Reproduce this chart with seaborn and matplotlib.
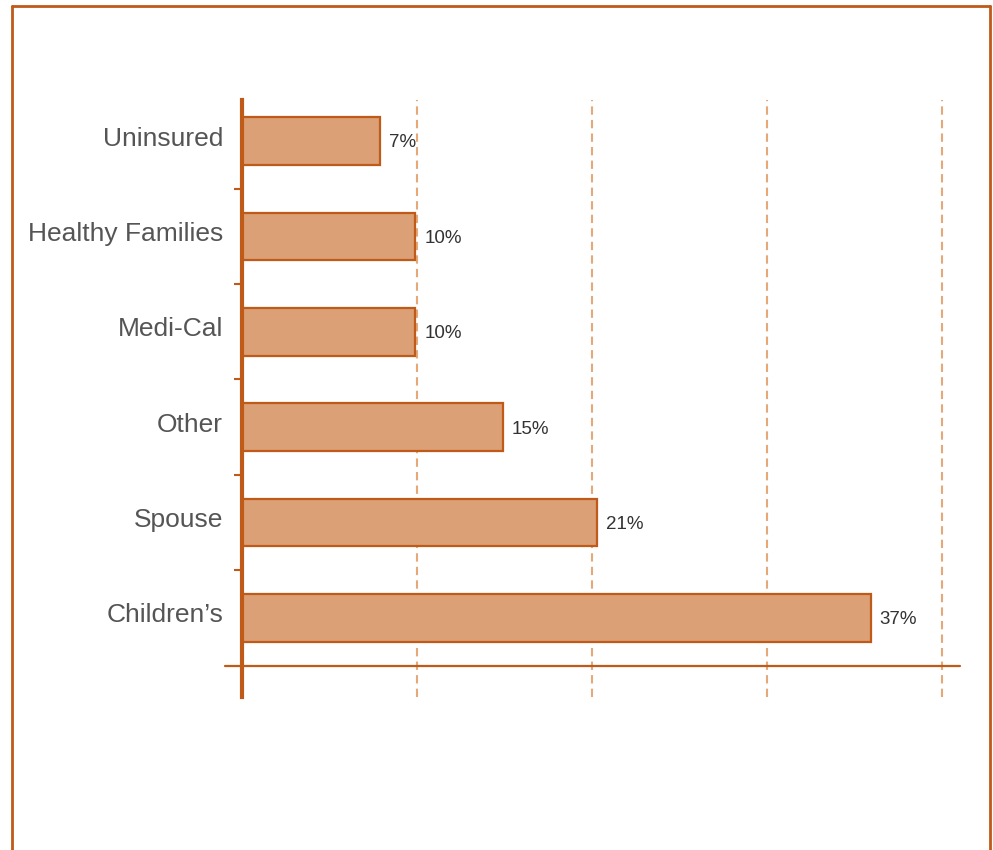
import matplotlib
matplotlib.use("Agg")
import matplotlib.pyplot as plt
import matplotlib.transforms as mtransforms
import seaborn as sns
import pandas as pd
from matplotlib.lines import Line2D

categories = ["Uninsured", "Healthy Families", "Medi-Cal", "Other", "Spouse", "Children\u2019s"]
values = [7.9, 9.9, 9.9, 14.9, 20.3, 35.9]
value_labels = ["7%", "10%", "10%", "15%", "21%", "37%"]
grid_ticks = [10, 20, 30, 40]

df = pd.DataFrame({"category": categories, "value": values})

sns.set_theme(style="white")
plt.rcParams["font.family"] = ["Liberation Sans", "DejaVu Sans"]

BAR_FILL = "#DCA076"
EDGE = "#BF5A18"
GRID = "#E5A878"

fig = plt.figure(figsize=(9.93, 8.5), dpi=100)
ax = fig.add_axes([242 / 993, 1 - 697 / 850, (960 - 242) / 993, (697 - 100) / 850])

sns.barplot(data=df, x="value", y="category", orient="h", ax=ax, width=0.5,
            color=BAR_FILL, edgecolor=EDGE, linewidth=1.6, saturation=1)

ax.set_xlim(0, 41)
ax.set_ylim(5.83, -0.43)
ax.set_xlabel("")
ax.set_ylabel("")

ax.set_xticks(grid_ticks)
ax.set_xticklabels([])
ax.tick_params(axis="x", length=0)
ax.xaxis.grid(True, linestyle=(0, (4, 2.5)), color=GRID, linewidth=1.5)
ax.yaxis.grid(False)
ax.set_axisbelow(True)

ax.set_yticks(range(len(categories)), minor=False)
ax.set_yticklabels(categories)
ax.tick_params(axis="y", which="major", length=0, pad=13.5, labelsize=19, labelcolor="#555555")
ax.set_yticks([i + 0.5 for i in range(len(categories) - 1)], minor=True)
ax.tick_params(axis="y", which="minor", length=6, width=1.5, color=EDGE, left=True)

# nudge category labels slightly upward as in the reference
offset = mtransforms.ScaledTranslation(0, 3.5 / 72, fig.dpi_scale_trans)
for lbl in ax.get_yticklabels():
    lbl.set_transform(lbl.get_transform() + offset)

for s in ["top", "right", "bottom"]:
    ax.spines[s].set_visible(False)
ax.spines["left"].set_color(EDGE)
ax.spines["left"].set_linewidth(3)
ax.spines["left"].set_zorder(5)

ax.axhline(len(categories) - 0.5, xmin=-0.024, xmax=1, color=EDGE, linewidth=1.6, clip_on=False, zorder=4)

for i, (v, lab) in enumerate(zip(values, value_labels)):
    ax.text(v + 0.5, i + 0.02, lab, va="center", ha="left", fontsize=13.5, color="#333333",
            family=["Liberation Sans Narrow", "Liberation Sans", "DejaVu Sans"])

# decorative frame
for (x0, y0, x1, y1) in [(12, 6, 12, 850), (12, 6, 990, 6), (990, 6, 990, 850)]:
    fig.add_artist(Line2D([x0 / 993, x1 / 993], [1 - y0 / 850, 1 - y1 / 850],
                          transform=fig.transFigure, color=EDGE, linewidth=2))

fig.savefig("out.png", dpi=100)
